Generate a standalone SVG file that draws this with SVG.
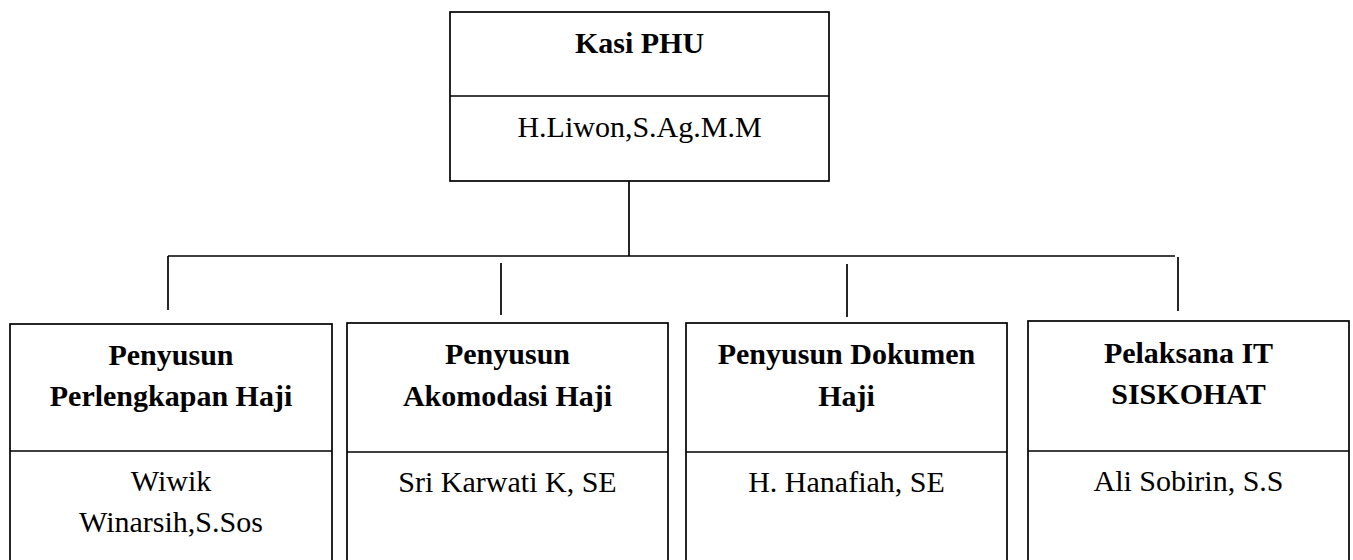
<svg xmlns="http://www.w3.org/2000/svg" width="1353" height="560" viewBox="0 0 1353 560">
<style>
  .box { fill: #ffffff; stroke: #000000; stroke-width: 1.7; }
  .div { stroke: #000000; stroke-width: 1.7; }
  .conn line { stroke: #000000; stroke-width: 1.7; }
  .t { font-family: "Liberation Serif", "Times New Roman", serif; font-size: 30px; fill: #000000; text-anchor: middle; }
  .b { font-weight: bold; }
</style>
<rect width="1353" height="560" fill="#ffffff"/>
<g class="conn" id="connectors">
  <line x1="629" y1="181" x2="629" y2="256"/>
  <line x1="168" y1="256" x2="1175" y2="256"/>
  <line x1="168" y1="256" x2="168" y2="310"/>
  <line x1="501" y1="263" x2="501" y2="315"/>
  <line x1="847" y1="264" x2="847" y2="317"/>
  <line x1="1178" y1="257" x2="1178" y2="311"/>
</g>
<g id="kasi">
  <rect class="box" x="450" y="12" width="379" height="169"/>
  <line class="div" x1="450" y1="96" x2="829" y2="96"/>
  <text class="t b" x="639.5" y="53">Kasi PHU</text>
  <text class="t" x="639.5" y="137">H.Liwon,S.Ag.M.M</text>
</g>
<g id="perlengkapan">
  <rect class="box" x="10" y="324" width="322" height="245"/>
  <line class="div" x1="10" y1="451" x2="332" y2="451"/>
  <text class="t b" x="171" y="365">Penyusun</text>
  <text class="t b" x="171" y="406">Perlengkapan Haji</text>
  <text class="t" x="171" y="491">Wiwik</text>
  <text class="t" x="171" y="532">Winarsih,S.Sos</text>
</g>
<g id="akomodasi">
  <rect class="box" x="347" y="323" width="321" height="246"/>
  <line class="div" x1="347" y1="452" x2="668" y2="452"/>
  <text class="t b" x="507.5" y="364">Penyusun</text>
  <text class="t b" x="507.5" y="405.5">Akomodasi Haji</text>
  <text class="t" x="507.5" y="492">Sri Karwati K, SE</text>
</g>
<g id="dokumen">
  <rect class="box" x="686" y="323" width="321" height="246"/>
  <line class="div" x1="686" y1="452" x2="1007" y2="452"/>
  <text class="t b" x="846.5" y="364">Penyusun Dokumen</text>
  <text class="t b" x="846.5" y="405.5">Haji</text>
  <text class="t" x="846.5" y="492">H. Hanafiah, SE</text>
</g>
<g id="siskohat">
  <rect class="box" x="1028" y="321" width="321" height="248"/>
  <line class="div" x1="1028" y1="451" x2="1349" y2="451"/>
  <text class="t b" x="1188.5" y="362.5">Pelaksana IT</text>
  <text class="t b" x="1188.5" y="404">SISKOHAT</text>
  <text class="t" x="1188.5" y="491">Ali Sobirin, S.S</text>
</g>
</svg>
